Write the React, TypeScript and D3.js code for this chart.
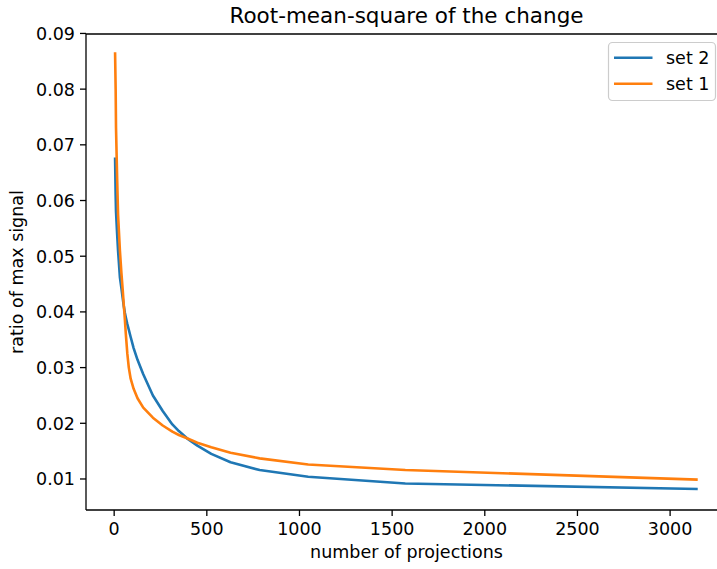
import React from "react";
import * as d3 from "d3";

const projections = [5, 8, 10, 16, 21, 31, 39, 46, 52, 58, 63, 71, 79, 89, 105, 126, 157, 209, 262, 314, 349, 393, 449, 524, 628, 785, 1047, 1571, 3142];
const set2 = [0.0675, 0.061, 0.058, 0.054, 0.051, 0.0462, 0.0443, 0.0425, 0.041, 0.0398, 0.039, 0.0378, 0.0368, 0.0355, 0.0335, 0.0314, 0.0288, 0.025, 0.0222, 0.0198, 0.0186, 0.0173, 0.016, 0.0145, 0.013, 0.0116, 0.0104, 0.0092, 0.0082];
const set1 = [0.0864, 0.08, 0.073, 0.064, 0.0575, 0.051, 0.047, 0.044, 0.0412, 0.0385, 0.036, 0.0325, 0.03, 0.028, 0.0262, 0.0245, 0.0228, 0.021, 0.0196, 0.0185, 0.0179, 0.0173, 0.0165, 0.0157, 0.0147, 0.0137, 0.0126, 0.0116, 0.0099];
const xTicks = [0, 500, 1000, 1500, 2000, 2500, 3000];
const yTicks = [0.01, 0.02, 0.03, 0.04, 0.05, 0.06, 0.07, 0.08, 0.09];
const seriesNames = ["set 2", "set 1"];
const colors = ["#1f77b4", "#ff7f0e"];

const W = 717, H = 569;
const L = 86, R = 727, T = 34, B = 510;
const FONT = "DejaVu Sans, sans-serif";
const FS = 17.5;

export default function App() {
  const x = d3.scaleLinear().domain([-152, 3307]).range([L, R]);
  const y = d3.scaleLinear().domain([0.00443, 0.0899]).range([B, T]);
  const series = [set2, set1];
  const line = d3
    .line<[number, number]>()
    .x((d) => x(d[0]))
    .y((d) => y(d[1]));

  return (
    <svg width={W} height={H} style={{ position: "absolute", left: 0, top: 0, background: "#fff" }} fontFamily={FONT}>
      <rect x={0} y={0} width={W} height={H} fill="#fff" />
      <defs>
        <clipPath id="plot">
          <rect x={L} y={T} width={R - L} height={B - T} />
        </clipPath>
      </defs>
      <g clipPath="url(#plot)">
        {series.map((s, i) => (
          <path
            key={i}
            d={line(projections.map((p, j) => [p, s[j]] as [number, number])) || ""}
            fill="none"
            stroke={colors[i]}
            strokeWidth={2.6}
            strokeLinejoin="round"
            strokeLinecap="square"
          />
        ))}
      </g>
      {/* spines */}
      <line x1={L} x2={L} y1={T} y2={B} stroke="#000" strokeWidth={1.3} />
      <line x1={L} x2={R} y1={B} y2={B} stroke="#000" strokeWidth={1.3} />
      <line x1={L} x2={R} y1={T} y2={T} stroke="#000" strokeWidth={1.3} />
      <line x1={R} x2={R} y1={T} y2={B} stroke="#000" strokeWidth={1.3} />
      {/* x ticks */}
      {xTicks.map((t) => (
        <g key={t}>
          <line x1={x(t)} x2={x(t)} y1={B} y2={B + 6} stroke="#000" strokeWidth={1.3} />
          <text x={x(t)} y={B + 25} textAnchor="middle" fontSize={FS} fill="#000">
            {t}
          </text>
        </g>
      ))}
      {/* y ticks */}
      {yTicks.map((t) => (
        <g key={t}>
          <line x1={L - 6} x2={L} y1={y(t)} y2={y(t)} stroke="#000" strokeWidth={1.3} />
          <text x={L - 11} y={y(t) + 6.5} textAnchor="end" fontSize={FS} fill="#000">
            {d3.format(".2f")(t)}
          </text>
        </g>
      ))}
      <text x={(L + R) / 2} y={23} textAnchor="middle" fontSize={21.5} fill="#000">
        Root-mean-square of the change
      </text>
      <text x={(L + R) / 2} y={558} textAnchor="middle" fontSize={FS} fill="#000">
        number of projections
      </text>
      <text transform={`translate(23, ${(T + B) / 2}) rotate(-90)`} textAnchor="middle" fontSize={FS} fill="#000">
        ratio of max signal
      </text>
      {/* legend */}
      <rect x={608.5} y={42.5} width={107} height={58} rx={4} fill="#fff" fillOpacity={0.8} stroke="#ccc" strokeWidth={1.2} />
      {seriesNames.map((n, i) => (
        <g key={n}>
          <line x1={614} x2={652.5} y1={57.7 + i * 26} y2={57.7 + i * 26} stroke={colors[i]} strokeWidth={2.6} />
          <text x={666} y={57.7 + i * 26 + 6.3} fontSize={FS} fill="#000">
            {n}
          </text>
        </g>
      ))}
    </svg>
  );
}
